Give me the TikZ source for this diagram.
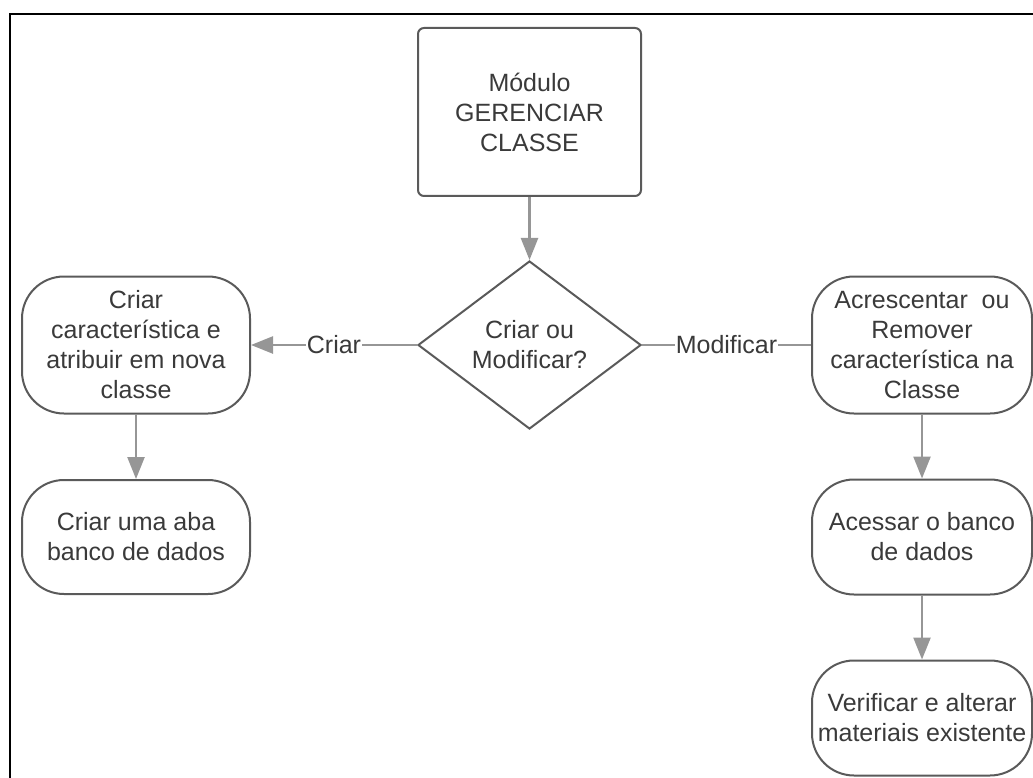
\documentclass[tikz,border=0pt]{standalone}
\usepackage{fontspec}
\setmainfont{Liberation Sans}
\usepackage{tikz}
\usetikzlibrary{shapes.geometric,arrows.meta}
\definecolor{FlowText}{RGB}{58,58,58}
\definecolor{FlowBorder}{RGB}{90,90,90}
\definecolor{FlowArrow}{RGB}{150,150,150}

\begin{document}
\begin{tikzpicture}[x=1pt,y=-1pt,
  every node/.style={font=\fontsize{25}{30}\selectfont,text=FlowText,align=center},
  boxmod/.style={draw=FlowBorder,line width=2pt,rounded corners=6pt,minimum width=223pt,minimum height=168pt,inner sep=0pt},
  decisao/.style={diamond,draw=FlowBorder,line width=2pt,minimum width=223pt,minimum height=168pt,inner sep=0pt},
  etapa/.style n args={2}{draw=FlowBorder,line width=2pt,rounded corners=42pt,minimum width=#1,minimum height=#2,inner sep=0pt},
  seta/.style={draw=FlowArrow,line width=2.5pt,-{Triangle[length=22pt,width=17pt]}},
  liga/.style={draw=FlowArrow,line width=2.5pt},
  rotulo/.style={fill=white,inner sep=1pt}]
\useasboundingbox (0,0) rectangle (1033,778);
\draw[line width=2pt] (10,778) -- (10,14) -- (1033,14);

\node[boxmod](mod) at (529.5,112) {Módulo\\GERENCIAR\\CLASSE};
\node[decisao](dec) at (529.5,345) {Criar ou\\Modificar?};
\node[etapa={228pt}{137pt}](criar) at (136,345) {Criar\\característica e\\atribuir em nova\\classe};
\node[etapa={228pt}{114pt}](aba) at (136,537) {Criar uma aba\\banco de dados};
\node[etapa={220pt}{137pt}](acres) at (922,345) {Acrescentar~~ou\\Remover\\característica na\\Classe};
\node[etapa={220pt}{115pt}](acesso) at (922,537) {Acessar o banco\\de dados};
\node[etapa={220pt}{115pt}](verif) at (922,718) {Verificar e alterar\\materiais existente};

\draw[seta] (mod) -- (dec);
\draw[seta] (dec.west) -- node[rotulo]{Criar} (criar.east);
\draw[liga] (dec.east) -- node[rotulo]{Modificar} (acres.west);
\draw[seta] (criar) -- (aba);
\draw[seta] (acres) -- (acesso);
\draw[seta] (acesso) -- (verif);
\end{tikzpicture}
\end{document}
